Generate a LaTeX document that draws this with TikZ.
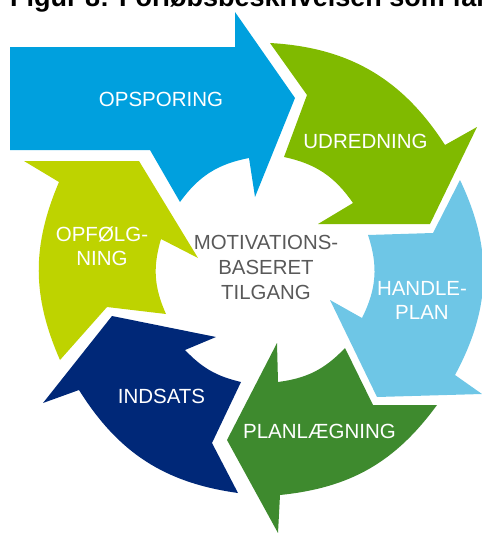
\documentclass[tikz,border=0pt]{standalone}
\usepackage{fontspec}
\setmainfont{Liberation Sans}

\definecolor{opblue}{RGB}{0,160,222}
\definecolor{udgreen}{RGB}{128,186,0}
\definecolor{hplblue}{RGB}{110,198,230}
\definecolor{plgreen}{RGB}{62,138,46}
\definecolor{indblue}{RGB}{0,40,120}
\definecolor{opfyellow}{RGB}{190,211,0}
\definecolor{midgray}{RGB}{89,89,89}

\begin{document}
\begin{tikzpicture}[x=1pt,y=-1pt,
  lbl/.style={text=white,font=\fontsize{20.5}{24}\selectfont,align=center,inner sep=0pt}]
  \useasboundingbox (0,0) rectangle (482,533);

  % Caption line, cut off by the top edge
  \node[anchor=base west,inner sep=0pt,font=\fontsize{27}{32}\selectfont\bfseries] (caption) at (10,6.5)
    {Figur 8: Forløbsbeskrivelsen som fal};

  % The six arrows, clockwise from top left
  \fill[opblue] (10,47) -- (235,47) -- (235,12) -- (295,98) -- (255,197) -- (249,158)
    to[bend right=21.6] (180,202) -- (150,150) -- (10,150) -- cycle;
  \fill[udgreen] (270,43) to[bend left=27] (445,145) -- (477,127) -- (430,224) -- (318,224)
    -- (353,203) to[bend right=21.6] (284,157) -- (307,95) -- cycle;
  \fill[hplblue] (460,180) to[bend left=27] (455,375) -- (482,394) -- (377,397) -- (330,300)
    -- (362,318) to[bend right=22.5] (368,235) -- (433,233) -- cycle;
  \fill[plgreen] (437,405) -- (373,405) -- (345,348) to[bend left=19.5] (278,382) -- (277,343)
    -- (227,440) -- (278,533) -- (280,495) to[bend right=24] (437,405) -- cycle;
  \fill[indblue] (238,493) -- (212,443) -- (241,382) to[bend left=16.5] (185,350) -- (216,337)
    -- (112,316) -- (43,403) -- (79,390) to[bend right=25] (238,493) -- cycle;
  \fill[opfyellow] (60,360) -- (107,307) -- (166,314) to[bend left=20.3] (161,239) -- (198,258)
    -- (139,161) -- (24,161) -- (59,182) to[bend right=23.4] (60,360) -- cycle;

  % Labels
  \node[lbl] (opsporing) at (161,99.5) {OPSPORING};
  \node[lbl] (udredning) at (365.5,141) {UDREDNING};
  \node[lbl] (handleplan) at (422,300) {HANDLE-\\PLAN};
  \node[lbl] (planlaegning) at (319.5,431) {PLANLÆGNING};
  \node[lbl] (indsats) at (161.5,396) {INDSATS};
  \node[lbl] (opfoelgning) at (102,246) {OPFØLG-\\NING};
  \node[lbl,text=midgray,font=\fontsize{20.4}{25}\selectfont] (tilgang) at (266,267)
    {MOTIVATIONS-\\BASERET\\TILGANG};
\end{tikzpicture}
\end{document}
